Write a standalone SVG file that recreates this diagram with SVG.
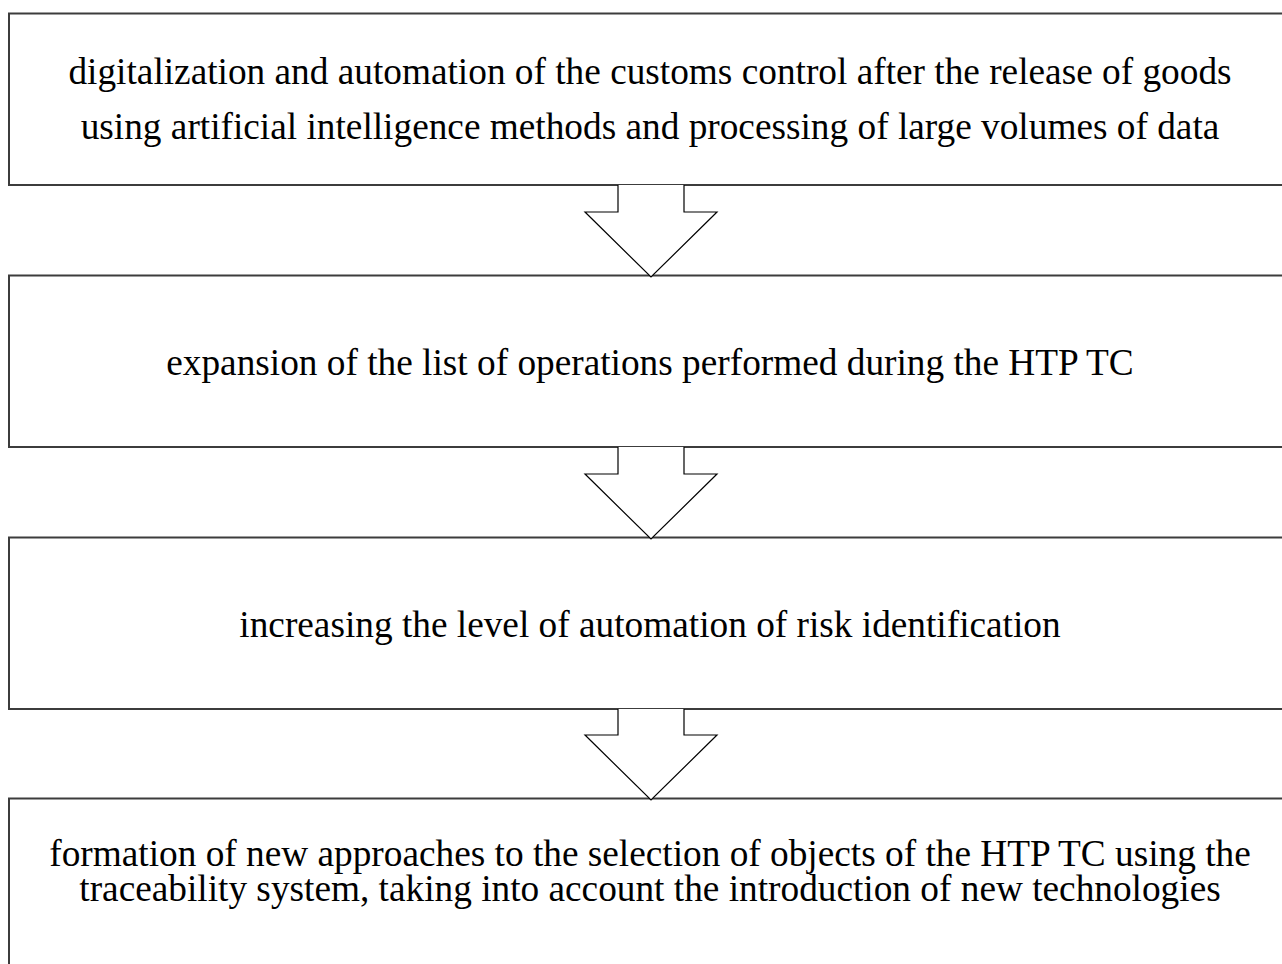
<svg xmlns="http://www.w3.org/2000/svg" width="1282" height="964" viewBox="0 0 1282 964">
  <style>
    .box { fill: #ffffff; stroke: #3c3c3c; stroke-width: 2; }
    .arrow { fill: #ffffff; stroke: #000000; stroke-width: 1.2; stroke-linejoin: miter; }
    .label { font-family: "Liberation Serif", "Times New Roman", serif; font-size: 37.3px; fill: #000000; text-anchor: middle; }
  </style>
  <rect width="1282" height="964" fill="#ffffff"/>

  <g id="step1">
    <rect class="box" x="9" y="13.5" width="1290" height="171.5"/>
    <text class="label" x="650" y="84">digitalization and automation of the customs control after the release of goods</text>
    <text class="label" x="650" y="139">using artificial intelligence methods and processing of large volumes of data</text>
  </g>

  <g id="step2">
    <rect class="box" x="9" y="275.5" width="1290" height="171.5"/>
    <text class="label" x="650" y="375">expansion of the list of operations performed during the HTP TC</text>
  </g>

  <g id="step3">
    <rect class="box" x="9" y="537.5" width="1290" height="171.5"/>
    <text class="label" x="650" y="637">increasing the level of automation of risk identification</text>
  </g>

  <g id="step4">
    <rect class="box" x="9" y="798.5" width="1290" height="200"/>
    <text class="label" x="650" y="866">formation of new approaches to the selection of objects of the HTP TC using the</text>
    <text class="label" x="650" y="901">traceability system, taking into account the introduction of new technologies</text>
  </g>

  <g id="connectors">
    <polyline class="arrow" points="618,185 618,212 585,212 651,277 717,212 684,212 684,185"/>
    <polyline class="arrow" points="618,447 618,474 585,474 651,539 717,474 684,474 684,447"/>
    <polyline class="arrow" points="618,709 618,735 585,735 651,800 717,735 684,735 684,709"/>
  </g>
</svg>
